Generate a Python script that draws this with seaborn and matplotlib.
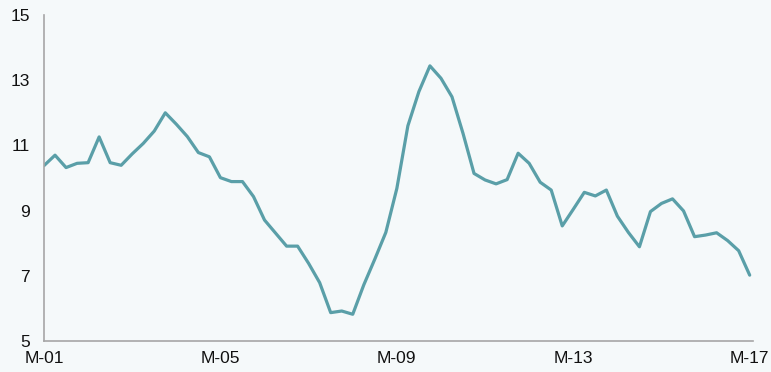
import numpy as np
import pandas as pd
import matplotlib
matplotlib.use('Agg')
import matplotlib.pyplot as plt
import seaborn as sns

# quarterly series, M-01 .. M-17
values = [10.38, 10.70, 10.32, 10.45, 10.47, 11.26, 10.47, 10.39,
          10.74, 11.06, 11.44, 12.00, 11.65, 11.27, 10.78, 10.65,
          10.01, 9.89, 9.89, 9.43, 8.71, 8.31, 7.91, 7.91,
          7.38, 6.79, 5.87, 5.92, 5.82, 6.72, 7.51, 8.33,
          9.68, 11.60, 12.65, 13.44, 13.06, 12.49, 11.37, 10.14,
          9.94, 9.82, 9.95, 10.76, 10.45, 9.87, 9.63, 8.53,
          9.04, 9.56, 9.45, 9.63, 8.83, 8.33, 7.89, 8.97,
          9.22, 9.36, 8.99, 8.20, 8.25, 8.32, 8.08, 7.77,
          7.02]
tick_labels = ['M-01', 'M-05', 'M-09', 'M-13', 'M-17']
y_ticks = [5, 7, 9, 11, 13, 15]

BG = '#F5F9FA'
LINE = '#5A9FA8'
GREY = '#A6A6A6'

sns.set_style('white')
plt.rcParams['font.family'] = ['Liberation Sans', 'DejaVu Sans']

df = pd.DataFrame({'t': np.arange(len(values)), 'v': values})

fig = plt.figure(figsize=(7.71, 3.72), dpi=100, facecolor=BG)
ax = fig.add_axes([44 / 771, 31 / 372, (753 - 44) / 771, (341 - 15) / 372])
ax.set_facecolor(BG)

sns.lineplot(data=df, x='t', y='v', ax=ax, color=LINE, linewidth=2.3)

ax.set_xlim(0, 64.3)
ax.set_ylim(5, 15)
ax.set_yticks(y_ticks)
ax.set_xticks([0, 16, 32, 48, 64])
ax.set_xticklabels(tick_labels)
ax.set_xlabel('')
ax.set_ylabel('')

for side in ['top', 'right']:
    ax.spines[side].set_visible(False)
for side in ['left', 'bottom']:
    ax.spines[side].set_color(GREY)
    ax.spines[side].set_linewidth(1.2)

ax.tick_params(axis='both', which='major', direction='out', length=3,
               width=1.0, color=GREY, labelsize=12.5, labelcolor='#111111')
ax.tick_params(axis='x', pad=4)
ax.tick_params(axis='y', pad=7)

fig.savefig('out.png', dpi=100, facecolor=BG)
